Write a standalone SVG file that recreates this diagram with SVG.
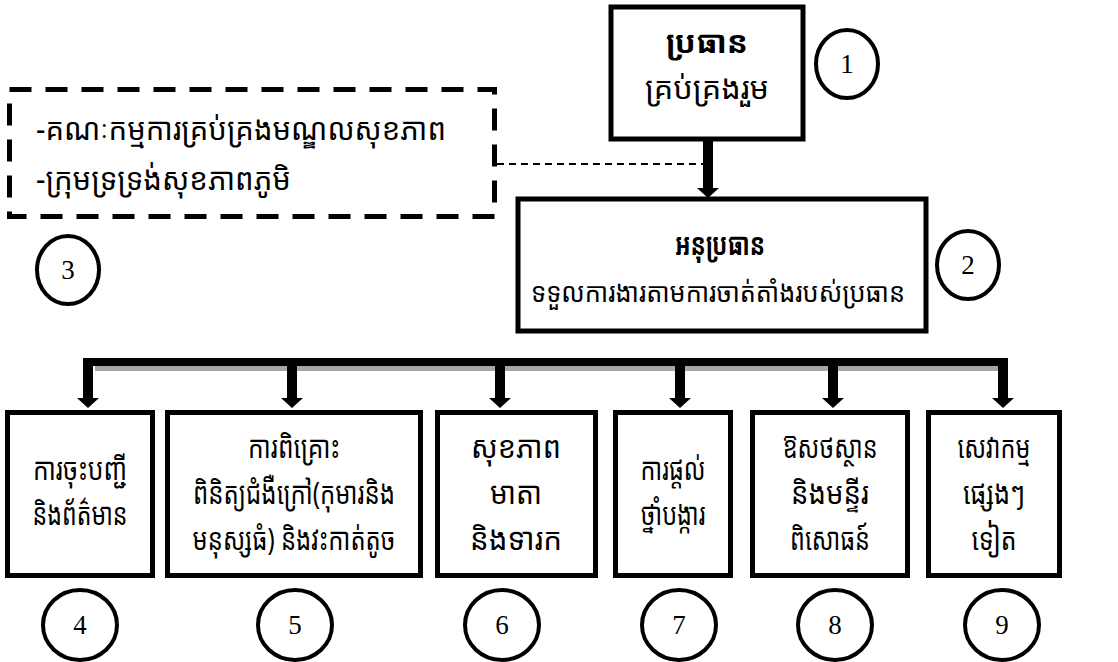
<svg xmlns="http://www.w3.org/2000/svg" width="1118" height="662" viewBox="0 0 1118 662">
<style>
.box{fill:#fff;stroke:#000;stroke-width:5}
.circ{fill:#fff;stroke:#000;stroke-width:4}
.kh{font-family:"Khmer OS","Khmer OS System","Noto Sans Khmer","Noto Serif Khmer","Hanuman","Battambang","Noto Sans",sans-serif;font-size:31px;fill:#000;text-anchor:middle}
.khl{text-anchor:start}
.b{font-weight:bold}
.num{font-family:"Liberation Serif","Times New Roman",serif;font-size:27px;fill:#000;text-anchor:middle}
</style>
<rect width="1118" height="662" fill="#fff"/>
<g id="connectors">
  <line x1="497" y1="164" x2="708" y2="164" stroke="#000" stroke-width="2" stroke-dasharray="7,5"/>
  <rect x="703" y="141" width="10" height="48" fill="#000"/>
  <polygon points="697,188 719,188 708,198" fill="#000"/>
  <rect x="95" y="366" width="905" height="5" fill="#a6a6a6"/>
  <rect x="83" y="358" width="925" height="8" fill="#000"/>
  <g fill="#000">
    <rect x="83" y="358" width="10" height="41"/><polygon points="77,398 99,398 88,408"/>
    <rect x="287" y="358" width="10" height="41"/><polygon points="281,398 303,398 292,408"/>
    <rect x="495" y="358" width="10" height="41"/><polygon points="489,398 511,398 500,408"/>
    <rect x="675" y="358" width="10" height="41"/><polygon points="669,398 691,398 680,408"/>
    <rect x="828" y="358" width="10" height="41"/><polygon points="822,398 844,398 833,408"/>
    <rect x="998" y="358" width="10" height="41"/><polygon points="992,398 1014,398 1003,408"/>
  </g>
</g>
<g id="node1">
  <rect class="box" x="611" y="7" width="192" height="132"/>
  <text class="kh b" x="707" y="53" textLength="82" lengthAdjust="spacingAndGlyphs">ប្រធាន</text>
  <text class="kh" x="707" y="99" textLength="124" lengthAdjust="spacingAndGlyphs">គ្រប់គ្រងរួម</text>
</g>
<g id="badge1"><ellipse class="circ" cx="847" cy="64" rx="31" ry="34"/><text class="num" x="847" y="73">1</text></g>
<g id="node3">
  <rect x="9.5" y="89.5" width="485" height="127" fill="none" stroke="#000" stroke-width="5" stroke-dasharray="22,14"/>
  <text class="kh khl" x="36" y="140" textLength="410" lengthAdjust="spacingAndGlyphs">-គណៈកម្មការគ្រប់គ្រងមណ្ឌលសុខភាព</text>
  <text class="kh khl" x="36" y="190" textLength="255" lengthAdjust="spacingAndGlyphs">-ក្រុមទ្រទ្រង់សុខភាពភូមិ</text>
</g>
<g id="badge3"><ellipse class="circ" cx="68" cy="270" rx="31" ry="34"/><text class="num" x="68" y="279">3</text></g>
<g id="node2">
  <rect class="box" x="518" y="199" width="408" height="132"/>
  <text class="kh b" x="720" y="255" textLength="90" lengthAdjust="spacingAndGlyphs">អនុប្រធាន</text>
  <text class="kh" x="718" y="302" style="font-size:27px" textLength="374" lengthAdjust="spacingAndGlyphs">ទទួលការងារតាមការចាត់តាំងរបស់ប្រធាន</text>
</g>
<g id="badge2"><ellipse class="circ" cx="968" cy="265" rx="31" ry="34"/><text class="num" x="968" y="274">2</text></g>
<g id="node4">
  <rect class="box" x="7.5" y="412.5" width="145" height="163"/>
  <text class="kh" x="80" y="480" textLength="94" lengthAdjust="spacingAndGlyphs">ការចុះបញ្ជី</text>
  <text class="kh" x="80" y="525" textLength="95" lengthAdjust="spacingAndGlyphs">និងព័ត៌មាន</text>
</g>
<g id="node5">
  <rect class="box" x="167.5" y="412.5" width="253" height="163"/>
  <text class="kh" x="294" y="458" textLength="92" lengthAdjust="spacingAndGlyphs">ការពិគ្រោះ</text>
  <text class="kh" x="294" y="504" textLength="202" lengthAdjust="spacingAndGlyphs">ពិនិត្យជំងឺក្រៅ(កុមារនិង</text>
  <text class="kh" x="294" y="550" textLength="203" lengthAdjust="spacingAndGlyphs">មនុស្សធំ) និងវះកាត់តូច</text>
</g>
<g id="node6">
  <rect class="box" x="437.5" y="412.5" width="158" height="163"/>
  <text class="kh" x="516" y="458" textLength="90" lengthAdjust="spacingAndGlyphs">សុខភាព</text>
  <text class="kh" x="516" y="504" textLength="52" lengthAdjust="spacingAndGlyphs">មាតា</text>
  <text class="kh" x="516" y="550" textLength="92" lengthAdjust="spacingAndGlyphs">និងទារក</text>
</g>
<g id="node7">
  <rect class="box" x="615.5" y="412.5" width="115" height="163"/>
  <text class="kh" x="673" y="480" textLength="65" lengthAdjust="spacingAndGlyphs">ការផ្តល់</text>
  <text class="kh" x="673" y="525" textLength="65" lengthAdjust="spacingAndGlyphs">ថ្នាំបង្ការ</text>
</g>
<g id="node8">
  <rect class="box" x="752.5" y="412.5" width="155" height="163"/>
  <text class="kh" x="830" y="458" textLength="95" lengthAdjust="spacingAndGlyphs">ឱសថស្ថាន</text>
  <text class="kh" x="830" y="504" textLength="78" lengthAdjust="spacingAndGlyphs">និងមន្ទីរ</text>
  <text class="kh" x="830" y="550" textLength="80" lengthAdjust="spacingAndGlyphs">ពិសោធន៍</text>
</g>
<g id="node9">
  <rect class="box" x="928.5" y="412.5" width="131" height="163"/>
  <text class="kh" x="994" y="458" textLength="73" lengthAdjust="spacingAndGlyphs">សេវាកម្ម</text>
  <text class="kh" x="994" y="504" textLength="62" lengthAdjust="spacingAndGlyphs">ផ្សេងៗ</text>
  <text class="kh" x="994" y="550" textLength="45" lengthAdjust="spacingAndGlyphs">ទៀត</text>
</g>
<g id="badges">
  <ellipse class="circ" cx="80" cy="625" rx="37" ry="35"/><text class="num" x="80" y="634">4</text>
  <ellipse class="circ" cx="295" cy="625" rx="37" ry="35"/><text class="num" x="295" y="634">5</text>
  <ellipse class="circ" cx="502" cy="625" rx="37" ry="35"/><text class="num" x="502" y="634">6</text>
  <ellipse class="circ" cx="679" cy="625" rx="37" ry="35"/><text class="num" x="679" y="634">7</text>
  <ellipse class="circ" cx="835" cy="625" rx="37" ry="35"/><text class="num" x="835" y="634">8</text>
  <ellipse class="circ" cx="1002" cy="625" rx="37" ry="35"/><text class="num" x="1002" y="634">9</text>
</g>
</svg>
